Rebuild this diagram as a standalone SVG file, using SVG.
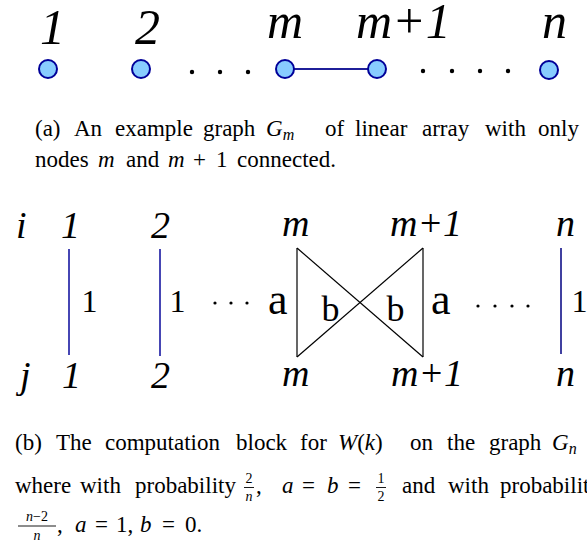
<svg xmlns="http://www.w3.org/2000/svg" width="587" height="548" viewBox="0 0 587 548">
<style>
text{font-family:"Liberation Serif","Times New Roman",serif;fill:#000}
.lbl{font-style:italic;font-size:50px}
.lb{font-style:italic;font-size:38px}
.w{font-size:32px}
.fa{font-size:44px}
.fb{font-size:36px}
.cap{font-size:23px}
.it{font-style:italic}
.sm{font-size:16px}
.fr{font-size:14px}
.node{fill:#88ccff;stroke:#000099;stroke-width:2}
.edge{stroke:#1f1f99;stroke-width:2;fill:none}
.wl{stroke:#4646b4;stroke-width:2;fill:none}
.wn{stroke:#000080;stroke-width:1.5;fill:none}
.bx{stroke:#000;stroke-width:1.2;fill:none}
.bar{stroke:#000;stroke-width:0.9}
</style>
<rect width="587" height="548" fill="#fff"/>

<!-- (a) graph -->
<g id="connectors-a">
  <line class="edge" x1="294" y1="69" x2="368" y2="69"/>
</g>
<g id="node-1"><circle class="node" cx="48" cy="69" r="9"/><text class="lbl" x="40" y="44">1</text></g>
<g id="node-2"><circle class="node" cx="141" cy="69" r="9"/><text class="lbl" x="135" y="44">2</text></g>
<g id="node-m"><circle class="node" cx="285" cy="69" r="9"/><text class="lbl" x="267" y="38">m</text></g>
<g id="node-m1"><circle class="node" cx="377" cy="69" r="9"/><text class="lbl" x="356" y="38">m+1</text></g>
<g id="node-n"><circle class="node" cx="549" cy="70" r="9"/><text class="lbl" x="542" y="38">n</text></g>
<g id="dots-a" fill="#000">
  <circle cx="192" cy="72" r="2.2"/><circle cx="220" cy="72" r="2.2"/><circle cx="248" cy="72" r="2.2"/>
  <circle cx="423" cy="71" r="2.2"/><circle cx="452" cy="71" r="2.2"/><circle cx="480" cy="71" r="2.2"/><circle cx="508" cy="71" r="2.2"/>
</g>

<!-- caption (a) -->
<g id="caption-a">
<text class="cap" y="136"><tspan x="35">(a)</tspan><tspan x="74">An</tspan><tspan x="115">example</tspan><tspan x="203">graph</tspan><tspan x="266" class="it">G</tspan><tspan class="it sm" dy="4">m</tspan><tspan x="325" dy="-4">of</tspan><tspan x="355">linear</tspan><tspan x="422">array</tspan><tspan x="485">with</tspan><tspan x="538">only</tspan></text>
<text class="cap" y="167"><tspan x="35">nodes</tspan><tspan x="98" class="it">m</tspan><tspan x="126">and</tspan><tspan x="168" class="it">m</tspan><tspan x="193">+</tspan><tspan x="216">1</tspan><tspan x="237">connected.</tspan></text>
</g>

<!-- (b) computation block -->
<g id="connectors-b">
  <line class="wl" x1="69" y1="249" x2="69" y2="355"/>
  <line class="wl" x1="160" y1="249" x2="160" y2="356"/>
  <line class="bx" x1="297" y1="248" x2="297" y2="357"/>
  <line class="bx" x1="423" y1="248" x2="423" y2="357"/>
  <line class="bx" x1="297" y1="248" x2="423" y2="357"/>
  <line class="bx" x1="297" y1="357" x2="423" y2="248"/>
  <line class="wn" x1="561" y1="248" x2="561" y2="354"/>
</g>
<g id="row-i">
  <text class="lb" x="16" y="238">i</text>
  <text class="lb" x="61" y="238">1</text>
  <text class="lb" x="151" y="238">2</text>
  <text class="lb" x="282" y="236">m</text>
  <text class="lb" x="390" y="236">m+1</text>
  <text class="lb" x="556" y="236">n</text>
</g>
<g id="row-j">
  <text class="lb" x="20" y="388">j</text>
  <text class="lb" x="62" y="388">1</text>
  <text class="lb" x="151" y="388">2</text>
  <text class="lb" x="282" y="386">m</text>
  <text class="lb" x="391" y="386">m+1</text>
  <text class="lb" x="556" y="386">n</text>
</g>
<g id="weights">
  <text class="w" x="81.5" y="312">1</text>
  <text class="w" x="169.5" y="312">1</text>
  <text class="w" x="571.5" y="312">1</text>
  <text class="fa" x="268" y="314">a</text>
  <text class="fb" x="321.5" y="321">b</text>
  <text class="fb" x="386.5" y="321">b</text>
  <text class="fa" x="431" y="314">a</text>
</g>
<g id="dots-b" fill="#000">
  <circle cx="215" cy="303" r="1.6"/><circle cx="231" cy="303" r="1.6"/><circle cx="247" cy="303" r="1.6"/>
  <circle cx="478" cy="306" r="1.6"/><circle cx="495" cy="306" r="1.6"/><circle cx="512" cy="306" r="1.6"/><circle cx="528" cy="306" r="1.6"/>
</g>

<!-- caption (b) -->
<g id="caption-b">
<text class="cap" y="450"><tspan x="15">(b)</tspan><tspan x="56">The</tspan><tspan x="105">computation</tspan><tspan x="236">block</tspan><tspan x="300">for</tspan><tspan x="338" class="it">W</tspan><tspan>(</tspan><tspan class="it">k</tspan><tspan>)</tspan><tspan x="410">on</tspan><tspan x="447">the</tspan><tspan x="489">graph</tspan><tspan x="552" class="it">G</tspan><tspan class="it sm" dy="4">n</tspan></text>
<text class="cap" y="493"><tspan x="15">where</tspan><tspan x="80">with</tspan><tspan x="135">probability</tspan><tspan x="256">,</tspan><tspan x="282" class="it">a</tspan><tspan x="302">=</tspan><tspan x="327" class="it">b</tspan><tspan x="348">=</tspan><tspan x="402">and</tspan><tspan x="448">with</tspan><tspan x="500">probabilit</tspan></text>
<text class="fr" x="249" y="483" text-anchor="middle">2</text>
<line class="bar" x1="244" y1="487.5" x2="254" y2="487.5"/>
<text class="fr it" x="249" y="501" text-anchor="middle">n</text>
<text class="fr" x="381" y="483" text-anchor="middle">1</text>
<line class="bar" x1="376" y1="487.5" x2="386" y2="487.5"/>
<text class="fr" x="381" y="501" text-anchor="middle">2</text>
<text class="fr" x="37" y="521" text-anchor="middle"><tspan class="it">n</tspan>−2</text>
<line class="bar" x1="18" y1="526" x2="56" y2="526"/>
<text class="fr it" x="37" y="540" text-anchor="middle">n</text>
<text class="cap" y="532"><tspan x="57">,</tspan><tspan x="75" class="it">a</tspan><tspan x="95">=</tspan><tspan x="116">1,</tspan><tspan x="140" class="it">b</tspan><tspan x="162">=</tspan><tspan x="185">0.</tspan></text>
</g>
</svg>
